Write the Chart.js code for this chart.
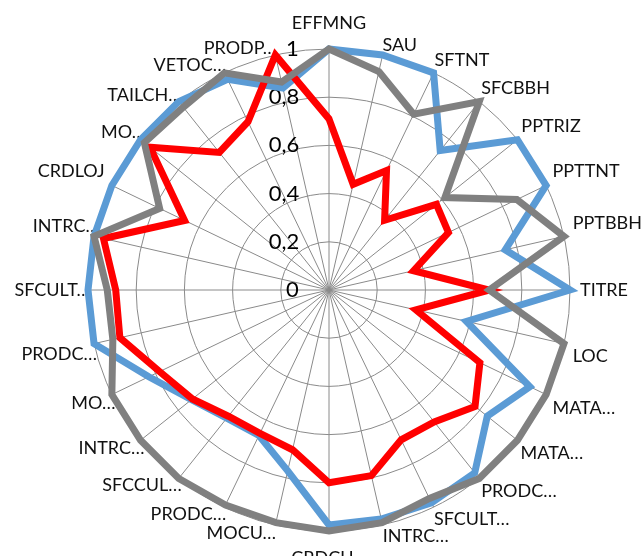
<!DOCTYPE html>
<html>
<head>
<meta charset="utf-8">
<script src="https://cdn.jsdelivr.net/npm/chart.js@4"></script>
<style>
  html, body { margin: 0; padding: 0; background: #fff; overflow: hidden; }
  .wrap { position: absolute; left: -40px; top: 0; width: 740px; height: 620px; }
</style>
</head>
<body>
<div class="wrap"><canvas class="radar"></canvas></div>
<script>
const categories = ["EFFMNG", "SAU", "SFTNT", "SFCBBH", "PPTRIZ", "PPTTNT", "PPTBBH", "TITRE", "LOC",
  "MATA…", "MATA…", "PRODC…", "SFCULT…", "INTRC…", "CRDCU…", "MOCU…", "PRODC…", "SFCCUL…",
  "INTRC…", "MO…", "PRODC…", "SFCULT…", "INTRC…", "CRDLOJ", "MO…", "TAILCH…", "VETOC…", "PRODP…"];

const blueValues = [1, 1, 1, 0.74, 1, 1, 0.75, 1, 0.585, 0.925, 0.84, 0.97, 0.98, 0.975,
  0.975, 0.77, 0.67, 0.68, 0.73, 0.83, 1, 1, 1, 1, 1, 1, 0.97, 0.86];
const redValues = [0.71, 0.45, 0.55, 0.37, 0.57, 0.55, 0.36, 0.665, 0.37, 0.695, 0.775, 0.70, 0.69, 0.79,
  0.80, 0.68, 0.66, 0.67, 0.725, 0.78, 0.89, 0.885, 0.96, 0.665, 0.95, 0.73, 0.775, 1];
const grayValues = [1, 0.93, 0.81, 1, 0.615, 0.865, 1, 0.665, 1, 1, 1, 1, 0.96, 0.99,
  1, 0.99, 0.99, 1, 1, 1, 0.92, 0.92, 1, 0.78, 0.98, 0.97, 1, 0.885];

const tickLabels = ["0", "0,2", "0,4", "0,6", "0,8", "1"];

// per-label distance tweak so labels sit where the original put them
const labelPadding = [2, -14, -11, -10, -8, -6, -4, -3, -4, -6, -9, -10, -12, -13,
  3, -16, -17, -18, -18, -17, -16, -15, -18, -5, -19, -18, -17, -17];

const tickFont = "22px Lato";
const measure = document.createElement("canvas").getContext("2d");
measure.font = tickFont;
const spaceW = measure.measureText(" ").width;

// labels sit right-aligned left of the vertical axis, so pad them with spaces
const padTick = (txt) => {
  const w = measure.measureText(txt).width;
  const n = Math.round((w + 58) / spaceW);
  return txt + " ".repeat(n);
};

const ctx = document.querySelector(".radar");

new Chart(ctx, {
  type: "radar",
  data: {
    labels: categories,
    datasets: [
      { label: "S1", data: blueValues, borderColor: "#5B9BD5", order: 3 },
      { label: "S2", data: redValues, borderColor: "#FF0000", order: 2 },
      { label: "S3", data: grayValues, borderColor: "#808080", order: 1 },
    ],
  },
  options: {
    responsive: true,
    maintainAspectRatio: false,
    animation: false,
    elements: {
      line: { borderWidth: 7, tension: 0, fill: false, borderJoinStyle: "miter" },
      point: { radius: 0, hoverRadius: 0 },
    },
    plugins: {
      legend: { display: false },
      tooltip: { enabled: false },
    },
    scales: {
      r: {
        min: 0,
        max: 1,
        afterSetDimensions: (scale) => {
          // wrapper is shifted 40px left
          scale.xCenter = 369;
          scale.yCenter = 290;
          scale.drawingArea = 241;
        },
        afterBuildTicks: (scale) => {
          // first tick label is never drawn by the radial scale, keep "0" visible
          scale.ticks.unshift({ value: 0 });
        },
        grid: { circular: true, color: "#8a8a8a", lineWidth: 1 },
        angleLines: { color: "#8a8a8a", lineWidth: 1 },
        ticks: {
          stepSize: 0.2,
          showLabelBackdrop: false,
          color: "#000",
          font: { family: "Lato", size: 22 },
          callback: (v) => padTick(tickLabels[Math.round(v * 5)]),
        },
        pointLabels: {
          color: "#111",
          padding: (c) => labelPadding[c.index],
          font: { family: "Lato", size: 18 },
        },
      },
    },
  },
});
</script>
</body>
</html>
